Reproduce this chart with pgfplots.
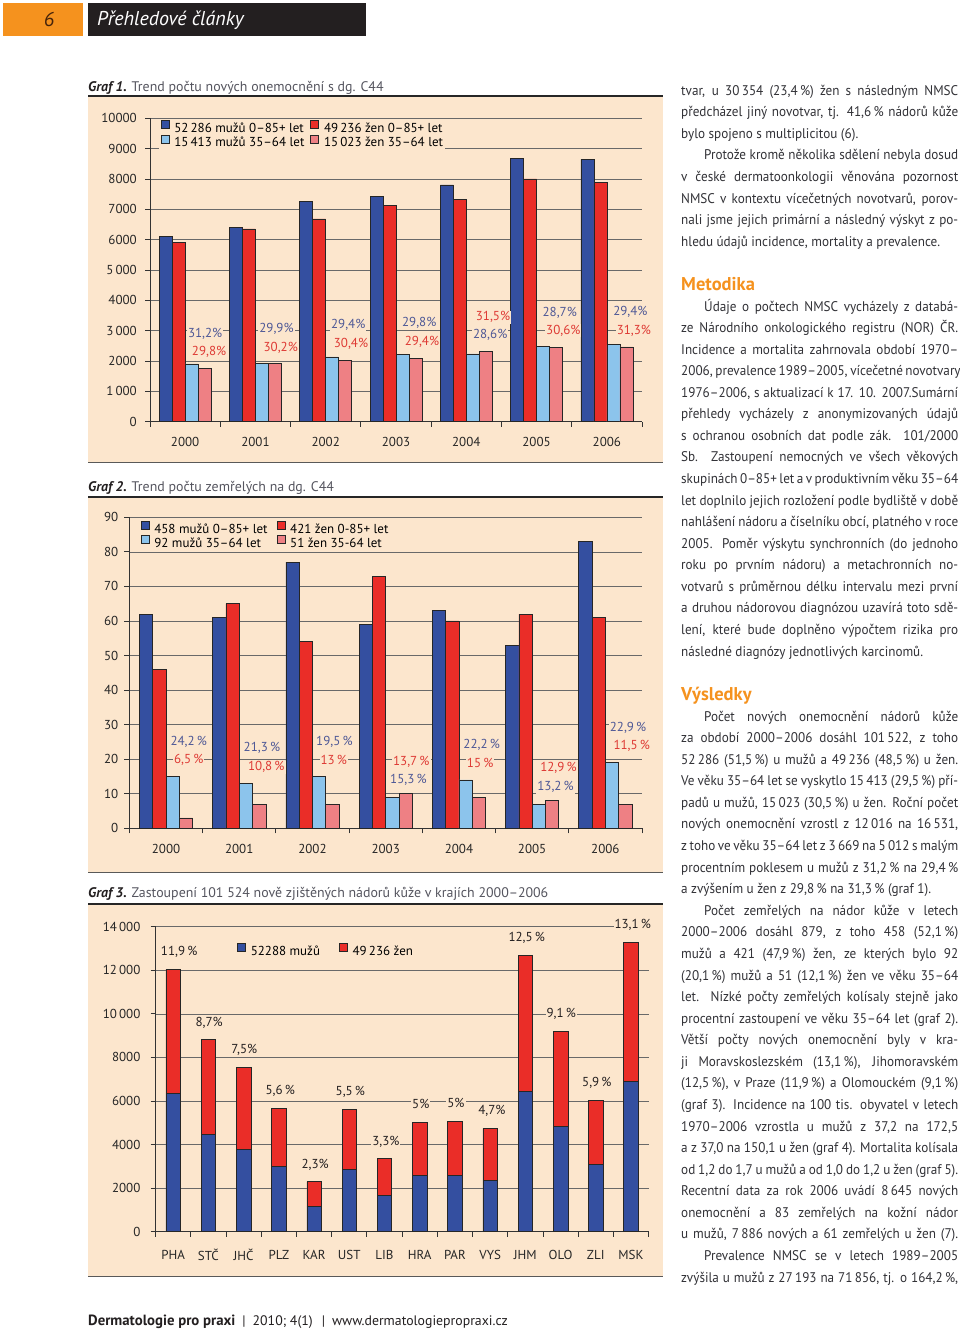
\documentclass[border=0pt]{standalone}
\usepackage{fontspec}
\setmainfont{PT Sans}
\newfontfamily\bodyf[FakeStretch=0.94]{PT Sans}
\usepackage{pgfplots}
\pgfplotsset{compat=1.18}

\definecolor{bg}{RGB}{252,230,205}
\definecolor{cBlue}{RGB}{52,79,160}
\definecolor{cRed}{RGB}{234,45,40}
\definecolor{cLight}{RGB}{140,196,236}
\definecolor{cPink}{RGB}{238,128,132}
\definecolor{lBlue}{RGB}{78,88,150}
\definecolor{lRed}{RGB}{222,58,52}
\definecolor{orng}{RGB}{245,146,30}
\definecolor{hdark}{RGB}{35,31,32}
\definecolor{hbrown}{RGB}{70,35,10}
\definecolor{txt}{RGB}{50,50,55}
\definecolor{ttlgray}{RGB}{85,85,95}
\definecolor{gridc}{RGB}{105,105,105}

\newcommand\fs[1]{\fontsize{#1}{#1}\selectfont}
% body text lines: full (stretched), indented first line, last line
\newcommand\TL[2]{\node[tl] at (681pt,-#1pt) {\makebox[277pt][s]{#2}};}
\newcommand\TI[2]{\node[tl] at (704pt,-#1pt) {\makebox[254pt][s]{#2}};}
\newcommand\TE[2]{\node[tl] at (681pt,-#1pt) {#2};}

\pgfplotsset{
  panel/.style={
    scale only axis, anchor=south west, clip=false,
    axis x line=bottom, axis y line=left,
    axis line style={-, draw=black!80, line width=0.8pt},
    tick align=outside, major tick length=0pt, minor tick length=5pt,
    tick style={draw=black!80, line width=0.8pt},
    ymajorgrids, grid style={draw=gridc, line width=0.6pt},
    scaled y ticks=false,
    ticklabel style={font=\fs{13}, text=black!85, inner sep=0pt},
    xticklabel style={anchor=center},
    yticklabel style={anchor=east},
    /pgf/number format/assume math mode=true,
    legend cell align=left,
    legend style={anchor=north west, draw=none, fill=bg,
      inner xsep=2pt, inner ysep=1pt, font=\fs{13}, row sep=0pt,
      nodes={inner sep=0pt, text height=9pt, text depth=2pt},
      /tikz/every odd column/.style={column sep=5pt},
      /tikz/every even column/.style={column sep=8pt}},
  },
  sq/.style={legend image code/.code={\draw[##1, line width=0.6pt] (0pt,0.5pt) rectangle (8pt,8.5pt);}},
  bB/.style={fill=cBlue, draw=black!85, line width=0.6pt, sq},
  bR/.style={fill=cRed, draw=black!85, line width=0.6pt, sq},
  bL/.style={fill=cLight, draw=black!85, line width=0.6pt, sq},
  bP/.style={fill=cPink, draw=black!85, line width=0.6pt, sq},
}
\tikzset{
  lab/.style={font=\fs{13}, fill=bg, inner sep=1pt},
  tl/.style={anchor=base west, inner sep=0pt, font=\bodyf\fs{14}, text=txt},
  ttl/.style={anchor=base west, inner sep=0pt, font=\fs{13.9}, text=hdark},
  hd/.style={anchor=base west, inner sep=0pt, font=\fs{18.5}\bfseries, text=orng},
}

\begin{document}
\begin{tikzpicture}
\useasboundingbox[fill=white] (0pt,0pt) rectangle (960pt,-1330pt);

% header
\fill[orng] (3pt,-3pt) rectangle (83pt,-36pt);
\node[font=\fs{20}\itshape, text=hbrown, inner sep=0pt] at (49pt,-20pt) {6};
\fill[hdark] (88pt,-3pt) rectangle (366pt,-36pt);
\node[anchor=west, font=\fs{20}\itshape, text=white, inner sep=0pt] at (97pt,-20.5pt) {Přehledové články};

% chart panels
\fill[bg] (88pt,-97pt) rectangle (663pt,-462pt);
\draw[black!85, line width=1.5pt] (88pt,-96pt) -- (663pt,-96pt);
\draw[black!65, line width=1pt] (88pt,-462pt) -- (663pt,-462pt);
\fill[bg] (88pt,-498pt) rectangle (663pt,-872pt);
\draw[black!85, line width=1.5pt] (88pt,-497pt) -- (663pt,-497pt);
\draw[black!65, line width=1pt] (88pt,-872pt) -- (663pt,-872pt);
\fill[bg] (88pt,-905pt) rectangle (663pt,-1276pt);
\draw[black!85, line width=1.5pt] (88pt,-904pt) -- (663pt,-904pt);
\draw[black!65, line width=1pt] (88pt,-1276pt) -- (663pt,-1276pt);

\node[ttl] at (88pt,-91.5pt) {\textbf{\textit{Graf 1.}} \textcolor{ttlgray}{Trend počtu nových onemocnění s dg. C44}};
\node[ttl] at (88pt,-491.5pt) {\textbf{\textit{Graf 2.}} \textcolor{ttlgray}{Trend počtu zemřelých na dg. C44}};
\node[ttl] at (88pt,-897.5pt) {\textbf{\textit{Graf 3.}} \textcolor{ttlgray}{Zastoupení 101 524 nově zjištěných nádorů kůže v krajích 2000–2006}};

% ---------- Graf 1 ----------
\begin{axis}[panel, at={(150pt,-421.7pt)}, width=492pt, height=303.3pt,
  xmin=-0.5, xmax=6.5, ymin=0, ymax=10000,
  xtick={0,...,6}, xticklabels={2000,2001,2002,2003,2004,2005,2006},
  minor xtick={-0.5,0.5,...,6.5},
  ytick={0,1000,...,10000}, minor ytick={0,1000,...,10000},
  yticklabels={0,1\,000,2000,3\,000,4000,5\,000,6000,7000,8000,9000,10000},
  xticklabel style={yshift=-20pt}, yticklabel style={xshift=-13pt},
  ybar=0pt, bar width=13pt, legend columns=2,
  legend style={at={(0.0173,0.9974)}, /tikz/every even column/.style={column sep=6pt}},
]
\addplot[bB] coordinates {(0,6110) (1,6400) (2,7258) (3,7423) (4,7808) (5,8690) (6,8645)};
\addlegendentry{52\,286 mužů 0–85+ let}
\addplot[bR] coordinates {(0,5906) (1,6355) (2,6685) (3,7126) (4,7335) (5,8007) (6,7886)};
\addlegendentry{49\,236 žen 0–85+ let}
\addplot[bL] coordinates {(0,1906) (1,1914) (2,2134) (3,2212) (4,2233) (5,2494) (6,2542)};
\addlegendentry{15\,413 mužů 35–64 let}
\addplot[bP] coordinates {(0,1760) (1,1919) (2,2032) (3,2095) (4,2310) (5,2450) (6,2468)};
\addlegendentry{15\,023 žen 35–64 let}
\node[lab, text=lBlue] at (axis cs:0.285,2907) {31,2\%};
\node[lab, text=lRed]  at (axis cs:0.34,2291) {29,8\%};
\node[lab, text=lBlue] at (axis cs:1.30,3062) {29,9\%};
\node[lab, text=lRed]  at (axis cs:1.36,2445) {30,2\%};
\node[lab, text=lBlue] at (axis cs:2.32,3194) {29,4\%};
\node[lab, text=lRed]  at (axis cs:2.36,2577) {30,4\%};
\node[lab, text=lBlue] at (axis cs:3.33,3249) {29,8\%};
\node[lab, text=lRed]  at (axis cs:3.37,2632) {29,4\%};
\node[lab, text=lRed]  at (axis cs:4.38,3447) {31,5\%};
\node[lab, text=lBlue] at (axis cs:4.34,2852) {28,6\%};
\node[lab, text=lBlue] at (axis cs:5.33,3601) {28,7\%};
\node[lab, text=lRed]  at (axis cs:5.38,2996) {30,6\%};
\node[lab, text=lBlue] at (axis cs:6.335,3623) {29,4\%};
\node[lab, text=lRed]  at (axis cs:6.385,2996) {31,3\%};
\end{axis}

% ---------- Graf 2 ----------
\begin{axis}[panel, at={(129.4pt,-828.3pt)}, width=512.6pt, height=311pt,
  xmin=-0.5, xmax=6.5, ymin=0, ymax=90,
  xtick={0,...,6}, xticklabels={2000,2001,2002,2003,2004,2005,2006},
  minor xtick={-0.5,0.5,...,6.5},
  ytick={0,10,...,90}, minor ytick={0,10,...,90},
  xticklabel style={yshift=-20.7pt}, yticklabel style={xshift=-11pt},
  ybar=0pt, bar width=13.3pt, legend columns=2,
  legend style={at={(0.0178,0.9920)}, /tikz/every even column/.style={column sep=9pt}},
]
\addplot[bB] coordinates {(0,62) (1,61) (2,77) (3,59) (4,63) (5,53) (6,83)};
\addlegendentry{458 mužů 0–85+ let}
\addplot[bR] coordinates {(0,46) (1,65) (2,54) (3,73) (4,60) (5,62) (6,61)};
\addlegendentry{421 žen 0-85+ let}
\addplot[bL] coordinates {(0,15) (1,13) (2,15) (3,9) (4,14) (5,7) (6,19)};
\addlegendentry{92 mužů 35–64 let}
\addplot[bP] coordinates {(0,3) (1,7) (2,7) (3,10) (4,9) (5,8) (6,7)};
\addlegendentry{51 žen 35-64 let}
\node[lab, text=lBlue] at (axis cs:0.31,25.1) {24,2\,\%};
\node[lab, text=lRed]  at (axis cs:0.31,19.8) {6,5\,\%};
\node[lab, text=lBlue] at (axis cs:1.31,23.3) {21,3\,\%};
\node[lab, text=lRed]  at (axis cs:1.37,17.7) {10,8\,\%};
\node[lab, text=lBlue] at (axis cs:2.30,25.1) {19,5\,\%};
\node[lab, text=lRed]  at (axis cs:2.29,19.8) {13\,\%};
\node[lab, text=lRed]  at (axis cs:3.35,19.3) {13,7\,\%};
\node[lab, text=lBlue] at (axis cs:3.31,13.9) {15,3\,\%};
\node[lab, text=lBlue] at (axis cs:4.31,24.3) {22,2\,\%};
\node[lab, text=lRed]  at (axis cs:4.29,18.8) {15\,\%};
\node[lab, text=lRed]  at (axis cs:5.36,17.4) {12,9\,\%};
\node[lab, text=lBlue] at (axis cs:5.32,11.9) {13,2\,\%};
\node[lab, text=lBlue] at (axis cs:6.31,29.2) {22,9\,\%};
\node[lab, text=lRed]  at (axis cs:6.36,23.9) {11,5\,\%};
\end{axis}

% ---------- Graf 3 ----------
\begin{axis}[panel, at={(155.6pt,-1231.7pt)}, width=493pt, height=305pt,
  xmin=-0.5, xmax=13.5, ymin=0, ymax=14000,
  xtick={0,...,13},
  xticklabels={PHA,STČ,JHČ,PLZ,KAR,UST,LIB,HRA,PAR,VYS,JHM,OLO,ZLI,MSK},
  minor xtick={-0.5,0.5,...,13.5},
  ytick={0,2000,...,14000}, minor ytick={0,2000,...,14000},
  yticklabels={0,2000,4000,6000,8000,10\,000,12\,000,14\,000},
  xticklabel style={yshift=-23pt}, yticklabel style={xshift=-15pt},
  ybar stacked, bar width=14.5pt, legend columns=2,
  legend style={at={(0.161,0.9515)}, /tikz/every even column/.style={column sep=19pt}},
]
\addplot[bB] coordinates {(0,6350) (1,4468) (2,3779) (3,3014) (4,1178) (5,2876) (6,1683)
  (7,2601) (8,2601) (9,2372) (10,6457) (11,4834) (12,3090) (13,6885)};
\addlegendentry{52288 mužů}
\addplot[bR] coordinates {(0,5690) (1,4360) (2,3779) (3,2647) (4,1117) (5,2739) (6,1668)
  (7,2417) (8,2479) (9,2371) (10,6243) (11,4376) (12,2938) (13,6395)};
\addlegendentry{49\,236 žen}
\node[lab, text=hdark] at (axis cs:0.17,12852) {11,9\,\%};
\node[lab, text=hdark] at (axis cs:1.02,9608) {8,7\%};
\node[lab, text=hdark] at (axis cs:2.02,8354) {7,5\%};
\node[lab, text=hdark] at (axis cs:3.04,6472) {5,6\,\%};
\node[lab, text=hdark] at (axis cs:4.03,3091) {2,3\%};
\node[lab, text=hdark] at (axis cs:5.03,6426) {5,5\,\%};
\node[lab, text=hdark] at (axis cs:6.04,4131) {3,3\%};
\node[lab, text=hdark] at (axis cs:7.03,5845) {5\%};
\node[lab, text=hdark] at (axis cs:8.03,5921) {5\%};
\node[lab, text=hdark] at (axis cs:9.05,5554) {4,7\%};
\node[lab, text=hdark] at (axis cs:10.04,13510) {12,5\,\%};
\node[lab, text=hdark] at (axis cs:11.02,10021) {9,1\,\%};
\node[lab, text=hdark] at (axis cs:12.03,6854) {5,9\,\%};
\node[lab, text=hdark] at (axis cs:13.05,14106) {13,1\,\%};
\end{axis}

% ---------- text column ----------
\TL{95}{tvar, u 30\,354 (23,4\,\%) žen s následným NMSC}
\TL{116.6}{předcházel jiný novotvar, tj. 41,6\,\% nádorů kůže}
\TE{138.2}{bylo spojeno s multiplicitou (6).}
\TI{159.8}{Protože kromě několika sdělení nebyla dosud}
\TL{181.4}{v české dermatoonkologii věnována pozornost}
\TL{203}{NMSC v kontextu vícečetných novotvarů, porov-}
\TL{224.6}{nali jsme jejich primární a následný výskyt z po-}
\TE{246.2}{hledu údajů incidence, mortality a prevalence.}

\node[hd] at (681pt,-290.5pt) {Metodika};
\TI{311}{Údaje o počtech NMSC vycházely z databá-}
\TL{332.6}{ze Národního onkologického registru (NOR) ČR.}
\TL{354.1}{Incidence a mortalita zahrnovala období 1970–}
\TL{375.7}{2006, prevalence 1989–2005, vícečetné novotvary}
\TL{397.2}{1976–2006, s aktualizací k 17. 10. 2007.Sumární}
\TL{418.8}{přehledy vycházely z anonymizovaných údajů}
\TL{440.4}{s ochranou osobních dat podle zák. 101/2000}
\TL{461.9}{Sb. Zastoupení nemocných ve všech věkových}
\TL{483.5}{skupinách 0–85+ let a v produktivním věku 35–64}
\TL{505}{let doplnilo jejich rozložení podle bydliště v době}
\TL{526.6}{nahlášení nádoru a číselníku obcí, platného v roce}
\TL{548.2}{2005. Poměr výskytu synchronních (do jednoho}
\TL{569.7}{roku po prvním nádoru) a metachronních no-}
\TL{591.3}{votvarů s průměrnou délku intervalu mezi první}
\TL{612.8}{a druhou nádorovou diagnózou uzavírá toto sdě-}
\TL{634.4}{lení, které bude doplněno výpočtem rizika pro}
\TE{656}{následné diagnózy jednotlivých karcinomů.}

\node[hd] at (681pt,-700.5pt) {Výsledky};
\TI{721}{Počet nových onemocnění nádorů kůže}
\TL{742.6}{za období 2000–2006 dosáhl 101\,522, z toho}
\TL{764.2}{52\,286 (51,5\,\%) u mužů a 49\,236 (48,5\,\%) u žen.}
\TL{785.7}{Ve věku 35–64 let se vyskytlo 15\,413 (29,5\,\%) pří-}
\TL{807.3}{padů u mužů, 15\,023 (30,5\,\%) u žen. Roční počet}
\TL{828.9}{nových onemocnění vzrostl z 12\,016 na 16\,531,}
\TL{850.5}{z toho ve věku 35–64 let z 3\,669 na 5\,012 s malým}
\TL{872.1}{procentním poklesem u mužů z 31,2\,\% na 29,4\,\%}
\TE{893.6}{a zvýšením u žen z 29,8\,\% na 31,3\,\% (graf 1).}
\TI{915.2}{Počet zemřelých na nádor kůže v letech}
\TL{936.8}{2000–2006 dosáhl 879, z toho 458 (52,1\,\%)}
\TL{958.4}{mužů a 421 (47,9\,\%) žen, ze kterých bylo 92}
\TL{980}{(20,1\,\%) mužů a 51 (12,1\,\%) žen ve věku 35–64}
\TL{1001.5}{let. Nízké počty zemřelých kolísaly stejně jako}
\TL{1023.1}{procentní zastoupení ve věku 35–64 let (graf 2).}
\TL{1044.7}{Větší počty nových onemocnění byly v kra-}
\TL{1066.3}{ji Moravskoslezském (13,1\,\%), Jihomoravském}
\TL{1087.9}{(12,5\,\%), v Praze (11,9\,\%) a Olomouckém (9,1\,\%)}
\TL{1109.4}{(graf 3). Incidence na 100 tis. obyvatel v letech}
\TL{1131}{1970–2006 vzrostla u mužů z 37,2 na 172,5}
\TL{1152.6}{a z 37,0 na 150,1 u žen (graf 4). Mortalita kolísala}
\TL{1174.2}{od 1,2 do 1,7 u mužů a od 1,0 do 1,2 u žen (graf 5).}
\TL{1195.8}{Recentní data za rok 2006 uvádí 8\,645 nových}
\TL{1217.3}{onemocnění a 83 zemřelých na kožní nádor}
\TL{1238.9}{u mužů, 7\,886 nových a 61 zemřelých u žen (7).}
\TI{1260.5}{Prevalence NMSC se v letech 1989–2005}
\TL{1282.1}{zvýšila u mužů z 27\,193 na 71\,856, tj. o 164,2\,\%,}

% footer
\node[anchor=base west, inner sep=0pt, font=\fs{13.8}, text=hdark] at (88pt,-1325.5pt)
  {{\fs{14.8}\bfseries Dermatologie pro praxi}\hspace{7pt}|\hspace{7pt}2010; 4(1)\hspace{9pt}|\hspace{7pt}www.dermatologiepropraxi.cz};
\end{tikzpicture}
\end{document}
